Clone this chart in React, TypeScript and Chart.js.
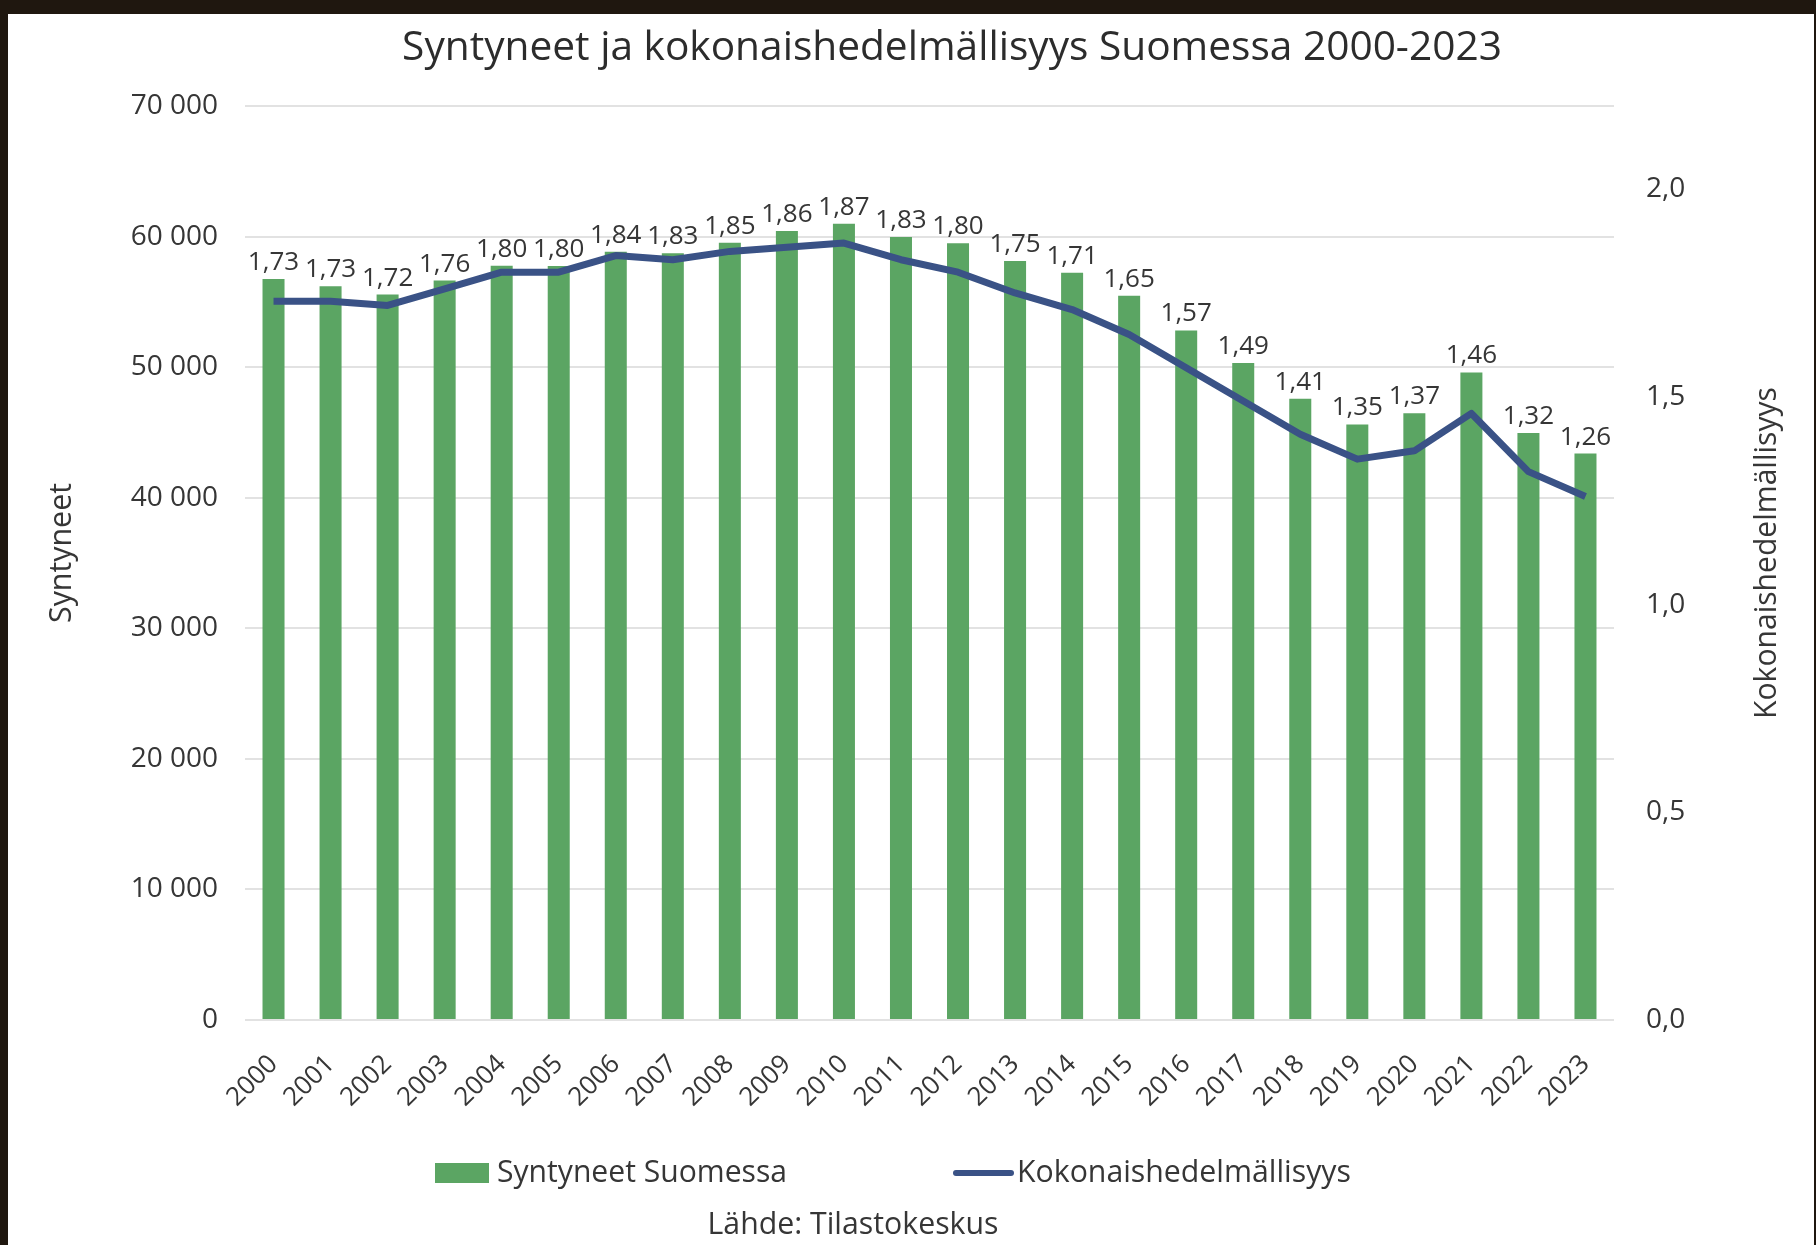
import React, { useEffect, useRef } from 'react';
import { Chart, registerables } from 'chart.js';

Chart.register(...registerables);

const years = ['2000','2001','2002','2003','2004','2005','2006','2007','2008','2009','2010','2011','2012','2013','2014','2015','2016','2017','2018','2019','2020','2021','2022','2023'];
const births = [56742, 56189, 55555, 56630, 57758, 57745, 58840, 58729, 59530, 60430, 60980, 59961, 59493, 58134, 57232, 55472, 52814, 50321, 47577, 45613, 46463, 49594, 44951, 43383];
const fertility = [1.73, 1.73, 1.72, 1.76, 1.80, 1.80, 1.84, 1.83, 1.85, 1.86, 1.87, 1.83, 1.80, 1.75, 1.71, 1.65, 1.57, 1.49, 1.41, 1.35, 1.37, 1.46, 1.32, 1.26];
const leftTicks = [0, 10000, 20000, 30000, 40000, 50000, 60000, 70000];
const rightTicks = [0, 0.5, 1.0, 1.5, 2.0];

const TITLE = 'Syntyneet ja kokonaishedelmällisyys Suomessa 2000-2023';
const LEFT_TITLE = 'Syntyneet';
const RIGHT_TITLE = 'Kokonaishedelmällisyys';
const BAR_LABEL = 'Syntyneet Suomessa';
const LINE_LABEL = 'Kokonaishedelmällisyys';
const SOURCE = 'Lähde: Tilastokeskus';

const FAMILY = '"Open Sans", "DejaVu Sans", sans-serif';
const GREEN = '#5ba563';
const NAVY = '#3a5286';
const TEXT = '#363636';

const fmtFi = (v: number, dec: number) => v.toFixed(dec).replace('.', ',');
const fmtThousands = (v: number) => String(v).replace(/\B(?=(\d{3})+(?!\d))/g, ' ');

function fitFont(ctx: CanvasRenderingContext2D, text: string, target: number) {
  ctx.font = `400 100px ${FAMILY}`;
  const w = ctx.measureText(text).width;
  return `400 ${(100 * target / w).toFixed(2)}px ${FAMILY}`;
}

const framePlugin = {
  id: 'frame',
  beforeDraw(chart: any) {
    const { ctx, width, height } = chart;
    ctx.save();
    ctx.fillStyle = '#1f170f';
    ctx.fillRect(0, 0, width, height);
    ctx.fillStyle = '#ffffff';
    ctx.fillRect(8, 14, width - 10, height - 14);
    ctx.restore();
  },
};

const textPlugin = {
  id: 'texts',
  afterDraw(chart: any) {
    const { ctx, chartArea } = chart;
    ctx.save();
    ctx.fillStyle = '#2c2c2c';
    // title
    ctx.font = fitFont(ctx, TITLE, 1100);
    ctx.textAlign = 'center';
    ctx.textBaseline = 'alphabetic';
    ctx.fillText(TITLE, 952, 60);

    ctx.fillStyle = TEXT;
    // axis titles
    const midY = (chartArea.top + chartArea.bottom) / 2 - 10;
    ctx.textBaseline = 'middle';
    ctx.save();
    ctx.translate(62, midY);
    ctx.rotate(-Math.PI / 2);
    ctx.font = fitFont(ctx, LEFT_TITLE, 140);
    ctx.fillText(LEFT_TITLE, 0, 0);
    ctx.restore();
    ctx.save();
    ctx.translate(1767, midY);
    ctx.rotate(-Math.PI / 2);
    ctx.font = fitFont(ctx, RIGHT_TITLE, 332);
    ctx.fillText(RIGHT_TITLE, 0, 0);
    ctx.restore();

    // data labels above bars (values of the fertility series)
    const meta = chart.getDatasetMeta(1);
    ctx.font = `400 26px ${FAMILY}`;
    ctx.textAlign = 'center';
    ctx.textBaseline = 'alphabetic';
    meta.data.forEach((bar: any, i: number) => {
      ctx.fillText(fmtFi(fertility[i], 2), bar.x, bar.y - 9);
    });

    // legend
    const legY = 1173;
    ctx.fillStyle = GREEN;
    ctx.fillRect(435, legY - 10, 54, 20);
    ctx.fillStyle = TEXT;
    ctx.textAlign = 'left';
    ctx.textBaseline = 'middle';
    ctx.font = fitFont(ctx, BAR_LABEL, 290);
    ctx.fillText(BAR_LABEL, 497, legY);
    ctx.strokeStyle = NAVY;
    ctx.lineWidth = 6;
    ctx.lineCap = 'round';
    ctx.beginPath();
    ctx.moveTo(956, legY);
    ctx.lineTo(1011, legY);
    ctx.stroke();
    ctx.font = fitFont(ctx, LINE_LABEL, 334);
    ctx.fillText(LINE_LABEL, 1017, legY);

    // source
    ctx.textAlign = 'center';
    ctx.font = fitFont(ctx, SOURCE, 291);
    ctx.fillText(SOURCE, 853, 1225);
    ctx.restore();
  },
};

export default function App() {
  const ref = useRef<HTMLCanvasElement>(null);
  useEffect(() => {
    document.body.style.margin = '0';
    document.body.style.overflow = 'hidden';
    const canvas = ref.current!;
    Chart.defaults.font.family = FAMILY;
    const chart = new Chart(canvas, {
      type: 'bar',
      data: {
        labels: years,
        datasets: [
          {
            type: 'line',
            label: LINE_LABEL,
            data: fertility,
            yAxisID: 'y1',
            borderColor: NAVY,
            backgroundColor: NAVY,
            borderWidth: 7,
            pointRadius: 0,
            tension: 0,
            borderJoinStyle: 'round',
            order: 0,
          } as any,
          {
            type: 'bar',
            label: BAR_LABEL,
            data: births,
            yAxisID: 'y',
            backgroundColor: GREEN,
            barPercentage: 0.386,
            categoryPercentage: 1,
            order: 1,
          },
        ],
      },
      options: {
        responsive: false,
        animation: false,
        devicePixelRatio: 1,
        layout: { padding: { top: 106, left: 0, right: 0, bottom: 0 } },
        plugins: {
          legend: { display: false },
          title: { display: false },
          tooltip: { enabled: false },
        },
        scales: {
          x: {
            grid: { display: false, drawTicks: false },
            border: { display: false },
            ticks: {
              maxRotation: 45,
              minRotation: 45,
              autoSkip: false,
              padding: 29,
              color: TEXT,
              font: { size: 26, family: FAMILY },
            },
            afterFit: (s: any) => { s.height = 225; },
          },
          y: {
            position: 'left',
            min: 0,
            max: 70000,
            afterBuildTicks: (s: any) => { s.ticks = leftTicks.map((v) => ({ value: v })); },
            grid: { color: '#e2e2e2', lineWidth: 2, drawTicks: false },
            border: { display: false },
            ticks: {
              padding: 27,
              color: TEXT,
              font: { size: 28, family: FAMILY },
              callback: (v: any) => fmtThousands(Number(v)),
            },
            afterFit: (s: any) => { s.width = 245; },
          },
          y1: {
            position: 'right',
            min: 0,
            max: 2.2,
            afterBuildTicks: (s: any) => { s.ticks = rightTicks.map((v) => ({ value: v })); },
            grid: { display: false, drawTicks: false },
            border: { display: false },
            ticks: {
              padding: 32,
              color: TEXT,
              font: { size: 28, family: FAMILY },
              callback: (v: any) => fmtFi(Number(v), 1),
            },
            afterFit: (s: any) => { s.width = 202; },
          },
        },
      },
      plugins: [framePlugin, textPlugin],
    });
    return () => chart.destroy();
  }, []);
  return (
    <div style={{ width: 1816, height: 1245 }}>
      <canvas ref={ref} width={1816} height={1245} style={{ display: 'block', width: 1816, height: 1245 }} />
    </div>
  );
}
